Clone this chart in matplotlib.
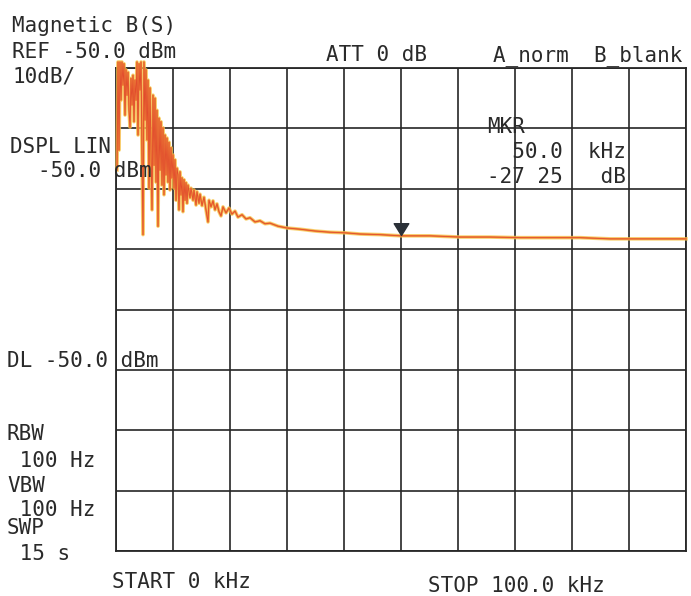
import matplotlib
matplotlib.use("Agg")
import matplotlib.pyplot as plt
from matplotlib.path import Path
import numpy as np

# ---- trace data (kHz, dBm) ----
freq_khz = [0.18, 0.35, 0.53, 0.70, 0.88, 1.05, 1.23, 1.40, 1.58, 1.75, 1.93, 2.11, 2.28, 2.46,
            2.63, 2.81, 2.98, 3.16, 3.33, 3.51, 3.68, 3.86, 4.04, 4.21, 4.39, 4.56, 4.74, 4.91,
            5.09, 5.26, 5.44, 5.61, 5.79, 5.96, 6.14, 6.32, 6.49, 6.67, 6.84, 7.02, 7.19, 7.37,
            7.54, 7.72, 7.89, 8.07, 8.25, 8.42, 8.60, 8.77, 8.95, 9.12, 9.30, 9.47, 9.65, 9.82,
            10.00, 10.18, 10.35, 10.53, 10.70, 10.88, 11.05, 11.23, 11.40, 11.58, 11.75, 11.93,
            12.11, 12.28, 12.46, 12.63, 12.98, 13.16, 13.51, 13.68, 14.04, 14.21, 14.56, 14.74,
            15.09, 15.44, 15.79, 16.14, 16.32, 16.67, 17.02, 17.37, 17.72, 18.07, 18.42, 18.77,
            19.30, 19.82, 20.35, 20.88, 21.40, 22.11, 22.81, 23.51, 24.39, 25.26, 26.14, 27.02,
            28.42, 30.00, 32.28, 34.91, 37.54, 40.18, 42.81, 46.32, 50.00, 55.09, 60.35, 65.61,
            70.88, 76.14, 81.40, 86.67, 91.93, 100.00]
level_dbm = [-66.9, -49.0, -63.6, -49.0, -55.3, -49.0, -52.8, -49.3, -57.8, -50.3, -54.5, -50.7, -57.0, -59.8,
             -51.7, -56.1, -51.2, -58.9, -52.0, -55.3, -49.0, -61.1, -49.3, -53.6, -49.0, -64.4, -77.6, -49.0,
             -58.6, -50.3, -61.9, -52.0, -69.9, -53.3, -63.6, -73.5, -54.5, -66.1, -55.0, -68.9, -57.0, -76.2,
             -58.3, -66.9, -58.9, -69.4, -59.9, -71.0, -61.1, -67.7, -61.6, -68.9, -62.3, -70.2, -63.2, -68.2,
             -64.4, -69.9, -65.2, -71.9, -66.6, -67.7, -73.5, -67.2, -71.0, -68.2, -73.8, -68.5,
             -71.9, -69.0, -72.4, -69.4, -71.5, -69.9, -71.9, -70.2, -72.7, -70.5, -72.4, -70.9,
             -72.8, -71.4, -73.5, -75.5, -71.9, -73.0, -72.0, -73.5, -72.5, -73.8, -74.5, -73.0,
             -74.0, -73.2, -74.2, -73.7, -74.7, -74.3, -75.0, -74.8, -75.5, -75.3, -75.8, -75.7,
             -76.2, -76.5, -76.7, -77.0, -77.2, -77.3, -77.5, -77.6, -77.8, -77.8, -78.0, -78.0,
             -78.1, -78.1, -78.1, -78.3, -78.3, -78.3]

marker_freq = [50.0]
marker_level = [-77.6]

x_ticks = list(range(0, 101, 10))       # kHz, 10 divisions
y_ticks = list(range(-130, -49, 10))    # dBm, 10 dB/div

# ---- annotation texts (text, left px, baseline px) ----
labels = [
    ("Magnetic B(S)", 12, 32),
    ("REF -50.0 dBm", 12, 58),
    ("10dB/", 12, 82),
    ("ATT 0 dB", 326, 61),
    ("A_norm  B_blank", 493, 61),
    ("DSPL LIN", 10, 153),
    ("-50.0 dBm", 38, 177),
    ("MKR", 487, 133),
    ("  50.0  kHz", 487, 158),
    ("-27 25   dB", 487, 183),
    ("DL -50.0 dBm", 7, 367),
    ("RBW", 7, 440),
    (" 100 Hz", 7, 467),
    ("VBW", 7, 492),
    (" 100 Hz", 7, 516),
    ("SWP", 7, 534),
    (" 15 s", 7, 560),
    ("START 0 kHz", 112, 588),
    ("STOP 100.0 kHz", 428, 592),
]

W, H = 691, 596
fig = plt.figure(figsize=(W / 100, H / 100), dpi=100)
fig.patch.set_facecolor("white")
ax = fig.add_axes([116 / W, 1 - 551 / H, 570 / W, 483 / H])
ax.set_xlim(0, 100)
ax.set_ylim(-130, -50)
ax.set_xticks(x_ticks)
ax.set_yticks(y_ticks)
ax.grid(True, color="#262626", lw=1.2)
ax.tick_params(length=0, labelbottom=False, labelleft=False)
for s in ax.spines.values():
    s.set_color("#262626")
    s.set_linewidth(1.3)

ax.plot(freq_khz, level_dbm, color="#f7c548", lw=2.6, alpha=0.75, clip_on=False, zorder=3)
ax.plot(freq_khz, level_dbm, color="#f0913a", lw=1.4, clip_on=False, zorder=4)
ax.plot(freq_khz, level_dbm, color="#de3a2a", lw=0.6, alpha=0.8, clip_on=False, zorder=5)

tri = Path([(-0.62, 1.0), (0.62, 1.0), (0.0, 0.0), (-0.62, 1.0)],
           [Path.MOVETO, Path.LINETO, Path.LINETO, Path.CLOSEPOLY])
ax.plot(marker_freq, marker_level, linestyle="none", marker=tri, markersize=17,
        color="#2b3138", zorder=6, clip_on=False)

for txt, x, y in labels:
    fig.text(x / W, 1 - y / H, txt, family="DejaVu Sans Mono", fontsize=15,
             color="#2a2a2a", ha="left", va="baseline")

fig.savefig("out.png", dpi=100)
